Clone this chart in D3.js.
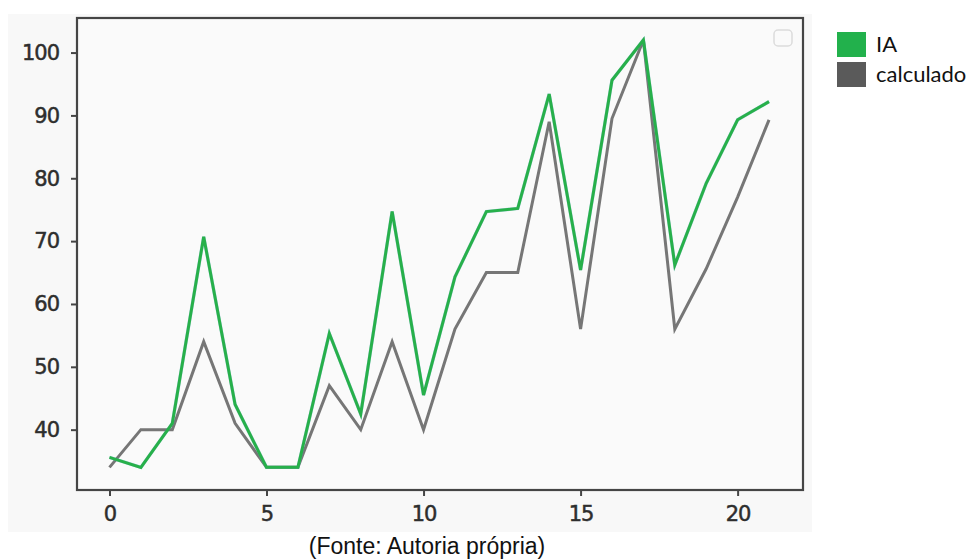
<!DOCTYPE html>
<html>
<head>
<meta charset="utf-8">
<script src="https://cdn.jsdelivr.net/npm/d3@7"></script>
<style>
  html, body { margin: 0; padding: 0; background: #ffffff; }
  svg { display: block; }
</style>
</head>
<body>
<svg id="chart" width="972" height="559"></svg>
<script>
// Series values, one per index 0..21
const indices = d3.range(22);
const iaValues = [35.6, 34, 41, 70.7, 44, 34, 34, 55.3, 42.5, 74.7, 45.5, 64.3,
                  74.7, 75.2, 93.4, 65.4, 95.6, 102, 66.2, 79.2, 89.3, 92.2];
const calcValues = [34, 40, 40, 54, 41, 34, 34, 47, 40, 54, 40, 56,
                    65, 65, 89, 56, 89.5, 102, 56, 65.6, 77, 89.3];
const xTicks = [0, 5, 10, 15, 20];
const yTicks = [40, 50, 60, 70, 80, 90, 100];
const seriesNames = ["IA", "calculado"];
const caption = "(Fonte: Autoria própria)";

const svg = d3.select("#chart");

// Figure backdrop (light grey panel behind the axes)
svg.append("rect")
  .attr("x", 8).attr("y", 14).attr("width", 804).attr("height", 518)
  .attr("fill", "#f8f8f8");

const plot = { left: 77, top: 18, right: 803, bottom: 490 };

const x = d3.scaleLinear().domain([-1.05, 22.05]).range([plot.left - 0.5, plot.right - 1]);
const y = d3.scaleLinear().domain([30.4, 105.5]).range([plot.bottom, plot.top]);

// Axes background
svg.append("rect")
  .attr("x", plot.left).attr("y", plot.top)
  .attr("width", plot.right - plot.left).attr("height", plot.bottom - plot.top)
  .attr("fill", "#fafafa");

// Lines
const line = d3.line().x((d, i) => x(indices[i])).y(d => y(d));

svg.append("path")
  .datum(calcValues)
  .attr("d", line)
  .attr("fill", "none")
  .attr("stroke", "#767676")
  .attr("stroke-width", 3)
  .attr("stroke-linejoin", "miter");

svg.append("path")
  .datum(iaValues)
  .attr("d", line)
  .attr("fill", "none")
  .attr("stroke", "#5aa7c8")
  .attr("stroke-width", 3.4)
  .attr("stroke-linejoin", "miter")
  .attr("opacity", 0.45);

svg.append("path")
  .datum(iaValues)
  .attr("d", line)
  .attr("fill", "none")
  .attr("stroke", "#27b04a")
  .attr("stroke-width", 3)
  .attr("stroke-linejoin", "miter");

// Empty legend box inside the axes
svg.append("rect")
  .attr("x", 774).attr("y", 30).attr("width", 18).attr("height", 16)
  .attr("rx", 4)
  .attr("fill", "none")
  .attr("stroke", "#dcdcdc")
  .attr("stroke-width", 1.5);

// Frame
svg.append("rect")
  .attr("x", plot.left).attr("y", plot.top)
  .attr("width", plot.right - plot.left).attr("height", plot.bottom - plot.top)
  .attr("fill", "none")
  .attr("stroke", "#454545")
  .attr("stroke-width", 2.2);

// Axes
const tickFont = "'DejaVu Sans', sans-serif";

const yAxis = svg.append("g")
  .attr("transform", `translate(${plot.left},0)`)
  .call(d3.axisLeft(y).tickValues(yTicks).tickSize(6).tickPadding(12));
const xAxis = svg.append("g")
  .attr("transform", `translate(0,${plot.bottom})`)
  .call(d3.axisBottom(x).tickValues(xTicks).tickSize(6).tickPadding(10));

[yAxis, xAxis].forEach(g => {
  g.select(".domain").remove();
  g.selectAll(".tick line").attr("stroke", "#454545").attr("stroke-width", 2);
  g.selectAll(".tick text")
    .attr("fill", "#2e2e2e")
    .attr("stroke", "#2e2e2e")
    .attr("stroke-width", 0.5)
    .style("font-family", tickFont)
    .style("font-size", "21px")
    .style("letter-spacing", "-1px");
});

// Legend outside the axes
const legendColors = ["#22b14c", "#5a5a5a"];
const legend = svg.append("g");
seriesNames.forEach((name, i) => {
  legend.append("rect")
    .attr("x", 837).attr("y", 32 + i * 30)
    .attr("width", 29).attr("height", 25)
    .attr("fill", legendColors[i]);
  legend.append("text")
    .attr("x", 876).attr("y", 52 + i * 30)
    .attr("fill", "#111111")
    .style("font-family", "Lato, 'Open Sans', sans-serif")
    .style("font-size", "22px")
    .text(name);
});

// Source caption
svg.append("text")
  .attr("x", 427).attr("y", 554)
  .attr("text-anchor", "middle")
  .attr("fill", "#111111")
  .style("font-family", "'Liberation Sans', Arial, sans-serif")
  .style("font-size", "23px")
  .text(caption);
</script>
</body>
</html>
